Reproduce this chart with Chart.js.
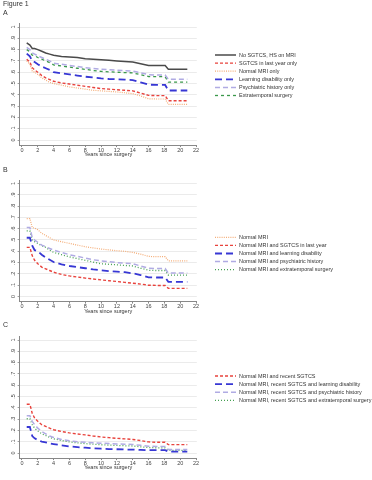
<!DOCTYPE html>
<html>
<head>
<meta charset="utf-8">
<script src="https://cdn.jsdelivr.net/npm/chart.js@4.4.1/dist/chart.umd.min.js"></script>
<style>
  body { margin: 0; background: #fff; }
  #wrap { position: relative; width: 372px; height: 480px; overflow: hidden; font-family: "Liberation Sans", Arial, sans-serif; color: #333; }
  canvas { position: absolute; left: 0; }
  .lbl { position: absolute; left: 3px; font-size: 7px; line-height: 8px; color: #333; }
</style>
</head>
<body>
<div id="wrap">
  <canvas id="chart-a" width="372" height="165" style="top:0px"></canvas>
  <canvas id="chart-b" width="372" height="165" style="top:156px"></canvas>
  <canvas id="chart-c" width="372" height="167" style="top:313px"></canvas>
  <div class="lbl" style="top:0px">Figure 1</div>
  <div class="lbl" style="top:9px">A</div>
  <div class="lbl" style="top:166px">B</div>
  <div class="lbl" style="top:321px">C</div>
</div>
<script>
// time points (years since surgery) shared by all curves
const years = [0.6, 1.0, 1.3, 1.6, 2.0, 2.5, 3.0, 3.5, 4.0, 5, 6, 7, 8, 9, 10, 11, 12, 13, 14, 15, 16, 17, 18.1, 18.5, 19, 20, 20.9];
const xTicks = [0, 2, 4, 6, 8, 10, 12, 14, 16, 18, 20, 22];
const yTicks = [0, 0.1, 0.2, 0.3, 0.4, 0.5, 0.6, 0.7, 0.8, 0.9, 1];

// Panel A
const aLabels = ['No SGTCS, HS on MRI', 'SGTCS in last year only', 'Normal MRI only', 'Learning disability only', 'Psychiatric history only', 'Extratemporal surgery'];
const aNoSgtcs = [0.86, 0.84, 0.81, 0.81, 0.80, 0.785, 0.77, 0.76, 0.75, 0.74, 0.735, 0.73, 0.72, 0.715, 0.71, 0.705, 0.70, 0.695, 0.69, 0.675, 0.66, 0.66, 0.66, 0.627, 0.627, 0.627, 0.627];
const aSgtcs = [0.715, 0.69, 0.64, 0.62, 0.60, 0.57, 0.55, 0.535, 0.52, 0.505, 0.495, 0.485, 0.475, 0.465, 0.455, 0.45, 0.445, 0.44, 0.435, 0.415, 0.395, 0.393, 0.393, 0.348, 0.348, 0.348, 0.348];
const aNormalMri = [0.70, 0.67, 0.61, 0.60, 0.58, 0.55, 0.53, 0.51, 0.50, 0.485, 0.47, 0.46, 0.45, 0.44, 0.435, 0.43, 0.425, 0.418, 0.41, 0.39, 0.365, 0.363, 0.363, 0.316, 0.316, 0.316, 0.316];
const aLearning = [0.765, 0.74, 0.70, 0.69, 0.67, 0.65, 0.635, 0.62, 0.60, 0.59, 0.58, 0.57, 0.56, 0.553, 0.545, 0.54, 0.537, 0.534, 0.53, 0.51, 0.49, 0.487, 0.487, 0.438, 0.438, 0.438, 0.438];
const aPsych = [0.82, 0.80, 0.77, 0.76, 0.745, 0.73, 0.715, 0.70, 0.68, 0.67, 0.66, 0.65, 0.64, 0.633, 0.627, 0.622, 0.618, 0.614, 0.61, 0.595, 0.578, 0.575, 0.575, 0.537, 0.537, 0.537, 0.537];
const aExtra = [0.80, 0.78, 0.75, 0.745, 0.73, 0.715, 0.70, 0.685, 0.665, 0.655, 0.645, 0.635, 0.625, 0.615, 0.607, 0.603, 0.60, 0.597, 0.594, 0.578, 0.562, 0.56, 0.56, 0.512, 0.512, 0.512, 0.512];

// Panel B
const bLabels = ['Normal MRI', 'Normal MRI and SGTCS in last year', 'Normal MRI and learning disability', 'Normal MRI and psychiatric history', 'Normal MRI and extratemporal surgery'];
const bNormalMri = [0.69, 0.69, 0.61, 0.605, 0.59, 0.56, 0.54, 0.52, 0.50, 0.485, 0.47, 0.455, 0.44, 0.43, 0.42, 0.413, 0.405, 0.40, 0.39, 0.375, 0.355, 0.352, 0.352, 0.316, 0.316, 0.316, 0.316];
const bSgtcs = [0.435, 0.435, 0.36, 0.32, 0.29, 0.26, 0.245, 0.23, 0.215, 0.195, 0.182, 0.172, 0.163, 0.155, 0.147, 0.14, 0.133, 0.125, 0.118, 0.11, 0.10, 0.098, 0.098, 0.072, 0.072, 0.072, 0.072];
const bLearning = [0.52, 0.52, 0.45, 0.41, 0.40, 0.37, 0.345, 0.325, 0.305, 0.285, 0.27, 0.26, 0.25, 0.24, 0.232, 0.225, 0.22, 0.215, 0.205, 0.19, 0.17, 0.168, 0.168, 0.13, 0.13, 0.13, 0.13];
const bPsych = [0.61, 0.61, 0.52, 0.50, 0.48, 0.455, 0.44, 0.425, 0.41, 0.39, 0.37, 0.355, 0.34, 0.325, 0.315, 0.308, 0.30, 0.295, 0.29, 0.27, 0.25, 0.247, 0.247, 0.208, 0.208, 0.208, 0.208];
const bExtra = [0.58, 0.58, 0.50, 0.485, 0.47, 0.45, 0.435, 0.41, 0.39, 0.37, 0.35, 0.335, 0.32, 0.305, 0.29, 0.285, 0.28, 0.275, 0.27, 0.25, 0.232, 0.23, 0.23, 0.19, 0.19, 0.19, 0.19];

// Panel C
const cLabels = ['Normal MRI and recent SGTCS', 'Normal MRI, recent SGTCS and learning disability', 'Normal MRI, recent SGTCS and psychiatric history', 'Normal MRI, recent SGTCS and extratemporal surgery'];
const cSgtcs = [0.432, 0.432, 0.35, 0.31, 0.28, 0.25, 0.235, 0.22, 0.206, 0.19, 0.178, 0.168, 0.16, 0.15, 0.142, 0.136, 0.13, 0.125, 0.12, 0.11, 0.098, 0.095, 0.095, 0.074, 0.074, 0.074, 0.074];
const cLearning = [0.23, 0.23, 0.15, 0.13, 0.115, 0.10, 0.094, 0.085, 0.079, 0.068, 0.058, 0.052, 0.047, 0.042, 0.038, 0.035, 0.033, 0.031, 0.03, 0.027, 0.025, 0.025, 0.025, 0.012, 0.012, 0.012, 0.012];
const cPsych = [0.33, 0.33, 0.28, 0.25, 0.22, 0.19, 0.17, 0.15, 0.138, 0.12, 0.108, 0.10, 0.095, 0.09, 0.087, 0.083, 0.08, 0.078, 0.075, 0.068, 0.06, 0.058, 0.058, 0.03, 0.03, 0.03, 0.03];
const cExtra = [0.303, 0.303, 0.25, 0.22, 0.195, 0.17, 0.155, 0.138, 0.126, 0.11, 0.098, 0.09, 0.083, 0.078, 0.073, 0.07, 0.067, 0.064, 0.062, 0.055, 0.048, 0.046, 0.046, 0.024, 0.024, 0.024, 0.024];

// line styles
const styles = {
    black:    { color: '#4a4a4a', width: 1.5, dash: [] },
    red:      { color: '#e8433d', width: 1.4, dash: [3, 2] },
    orange:   { color: '#f4ad78', width: 1.2, dash: [1, 1.2] },
    blue:     { color: '#3737d4', width: 1.8, dash: [7, 4] },
    lavender: { color: '#b0abe3', width: 1.5, dash: [5, 3] },
    green:    { color: '#3a984a', width: 1.3, dash: [3, 3] },
    greenDot: { color: '#45a052', width: 1.3, dash: [1, 2] }
};

function makeDataset(label, values, style) {
    return {
        label: label,
        data: years.map((x, i) => ({ x: x, y: values[i] })),
        borderColor: style.color,
        borderWidth: style.width,
        borderDash: style.dash,
        tension: 0,
        pointRadius: 0,
        fill: false
    };
}

// legend drawn to the right of the plot, Stata style
const sideLegend = {
    id: 'sideLegend',
    afterDraw(chart, args, opts) {
        const ctx = chart.ctx;
        chart.data.datasets.forEach((ds, i) => {
            const y = opts.top + i * opts.step;
            ctx.save();
            ctx.strokeStyle = ds.borderColor;
            ctx.lineWidth = ds.borderWidth;
            ctx.setLineDash(ds.borderDash || []);
            ctx.beginPath();
            ctx.moveTo(215, y);
            ctx.lineTo(236, y);
            ctx.stroke();
            ctx.setLineDash([]);
            ctx.fillStyle = '#333';
            ctx.font = '5.45px "Liberation Sans", Arial, sans-serif';
            ctx.textBaseline = 'middle';
            ctx.fillText(ds.label, 239, y);
            ctx.restore();
        });
    }
};

const yMin = -0.045, yMax = 1.03;
const xMin = -0.3, xMax = 22.1;
const xAxisHeight = 13;

function makePanel(id, canvasTop, canvasHeight, y1px, datasets, legendTop) {
    const k = 113; // pixels per unit of survival
    const areaTop = y1px - (yMax - 1) * k - canvasTop;
    const areaBottom = y1px + k + (-yMin) * k - canvasTop;
    const ctx = document.getElementById(id).getContext('2d');

    new Chart(ctx, {
        type: 'line',
        data: { datasets: datasets },
        options: {
            responsive: false,
            animation: false,
            devicePixelRatio: 1,
            layout: {
                padding: { left: 0, right: 372 - 196.8, top: areaTop, bottom: canvasHeight - areaBottom - xAxisHeight }
            },
            plugins: {
                legend: { display: false },
                tooltip: { enabled: false },
                sideLegend: { top: legendTop - canvasTop, step: 8.1 }
            },
            scales: {
                x: {
                    type: 'linear',
                    min: xMin,
                    max: xMax,
                    afterBuildTicks: s => { s.ticks = xTicks.map(v => ({ value: v })); },
                    afterFit: s => { s.height = xAxisHeight; },
                    grid: { drawOnChartArea: false, drawTicks: true, tickLength: 2, color: '#888' },
                    border: { display: true, color: '#888', width: 1 },
                    ticks: { color: '#444', font: { size: 5.5, family: '"Liberation Sans", Arial' }, padding: 0, maxRotation: 0, autoSkip: false },
                    title: { display: true, text: 'Years since surgery', color: '#333', font: { size: 5.5, family: '"Liberation Sans", Arial' }, padding: 0 }
                },
                y: {
                    min: yMin,
                    max: yMax,
                    afterBuildTicks: s => { s.ticks = yTicks.map(v => ({ value: v })); },
                    afterFit: s => { s.width = 19.6; },
                    grid: { color: '#e6e6e6', tickColor: '#888', tickLength: 2, lineWidth: 0.8 },
                    border: { display: true, color: '#888', width: 1 },
                    ticks: {
                        color: '#444',
                        font: { size: 5.5, family: '"Liberation Sans", Arial' },
                        minRotation: 90,
                        maxRotation: 90,
                        crossAlign: 'center',
                        padding: 2,
                        callback: v => (v === 0 ? '0' : v === 1 ? '1' : '.' + Math.round(v * 10))
                    }
                }
            }
        },
        plugins: [sideLegend]
    });
}

makePanel('chart-a', 0, 165, 27, [
    makeDataset(aLabels[0], aNoSgtcs, styles.black),
    makeDataset(aLabels[1], aSgtcs, styles.red),
    makeDataset(aLabels[2], aNormalMri, styles.orange),
    makeDataset(aLabels[3], aLearning, styles.blue),
    makeDataset(aLabels[4], aPsych, styles.lavender),
    makeDataset(aLabels[5], aExtra, styles.green)
], 55);

makePanel('chart-b', 156, 165, 183.5, [
    makeDataset(bLabels[0], bNormalMri, styles.orange),
    makeDataset(bLabels[1], bSgtcs, styles.red),
    makeDataset(bLabels[2], bLearning, styles.blue),
    makeDataset(bLabels[3], bPsych, styles.lavender),
    makeDataset(bLabels[4], bExtra, styles.greenDot)
], 237.3);

makePanel('chart-c', 313, 167, 340, [
    makeDataset(cLabels[0], cSgtcs, styles.red),
    makeDataset(cLabels[1], cLearning, styles.blue),
    makeDataset(cLabels[2], cPsych, styles.lavender),
    makeDataset(cLabels[3], cExtra, styles.greenDot)
], 376);
</script>
</body>
</html>
